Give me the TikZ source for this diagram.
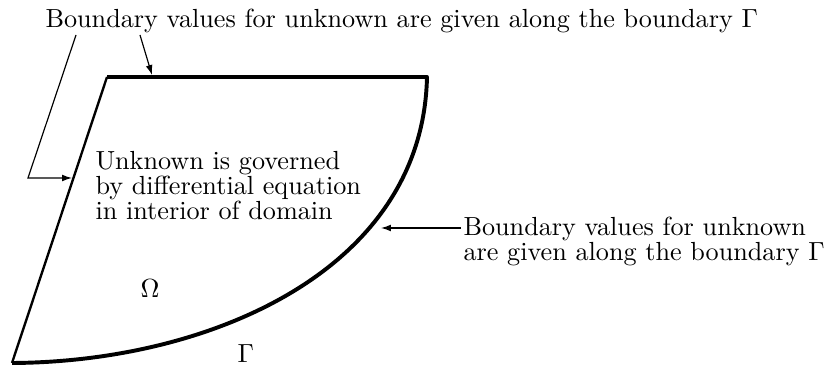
\documentclass[tikz,border=0pt]{standalone}
\usepackage{tikz}
\usetikzlibrary{arrows.meta,positioning}

\begin{document}
\begin{tikzpicture}[
  x=0.382pt,y=-0.382pt,
  every node/.style={font=\rmfamily\fontsize{10pt}{9.55pt}\selectfont,inner sep=0pt},
  bnd/.style={line width=1.5pt,line join=round},
  sd/.style ={line width=0.9pt},
  ldr/.style={line width=0.45pt,-{Latex[length=3.8pt,width=2.6pt]}},
  txt/.style={anchor=base west,align=left}]
  \useasboundingbox (0,0) rectangle (826,366);

  % --- corners of the domain
  \coordinate (bl) at ( 12,363);
  \coordinate (tl) at (107, 77);
  \coordinate (tr) at (427, 77);

  % --- boundary: thin straight side, thick top and curved side
  \draw[sd]  (bl) -- (tl);
  \draw[bnd] (tl) -- (tr) .. controls (423,270) and (210,362) .. (bl);

  % --- labels inside and along the domain (base = last line)
  \node[txt] (omega) at (140,298) {$\Omega$};
  \node[txt] (gam)   at (237,363) {$\Gamma$};
  \node[txt] (gov)   at ( 95,220)
    {Unknown is governed\\by differential equation\\in interior of domain};

  % --- the two boundary notes
  \node[txt] (topnote) at (45,28)
    {Boundary values for unknown are given along the boundary $\Gamma$};
  \node[txt] (rgtnote) at (463,261)
    {Boundary values for unknown\\are given along the boundary $\Gamma$};

  % --- leader ends
  \coordinate (topfoot)  at (140, 35);
  \coordinate (topmark)  at (152, 75);
  \coordinate (leftfoot) at ( 76, 35);
  \coordinate (leftknee) at ( 28,178);
  \coordinate (leftmark) at ( 72,178);
  \coordinate (rgtfoot)  at (461,228);
  \coordinate (rgtmark)  at (381,228);

  % --- leaders
  \draw[ldr] (topfoot) -- (topmark);
  \draw[ldr] (leftfoot) -- (leftknee) -- (leftmark);
  \draw[ldr] (rgtfoot) -- (rgtmark);
\end{tikzpicture}
\end{document}
